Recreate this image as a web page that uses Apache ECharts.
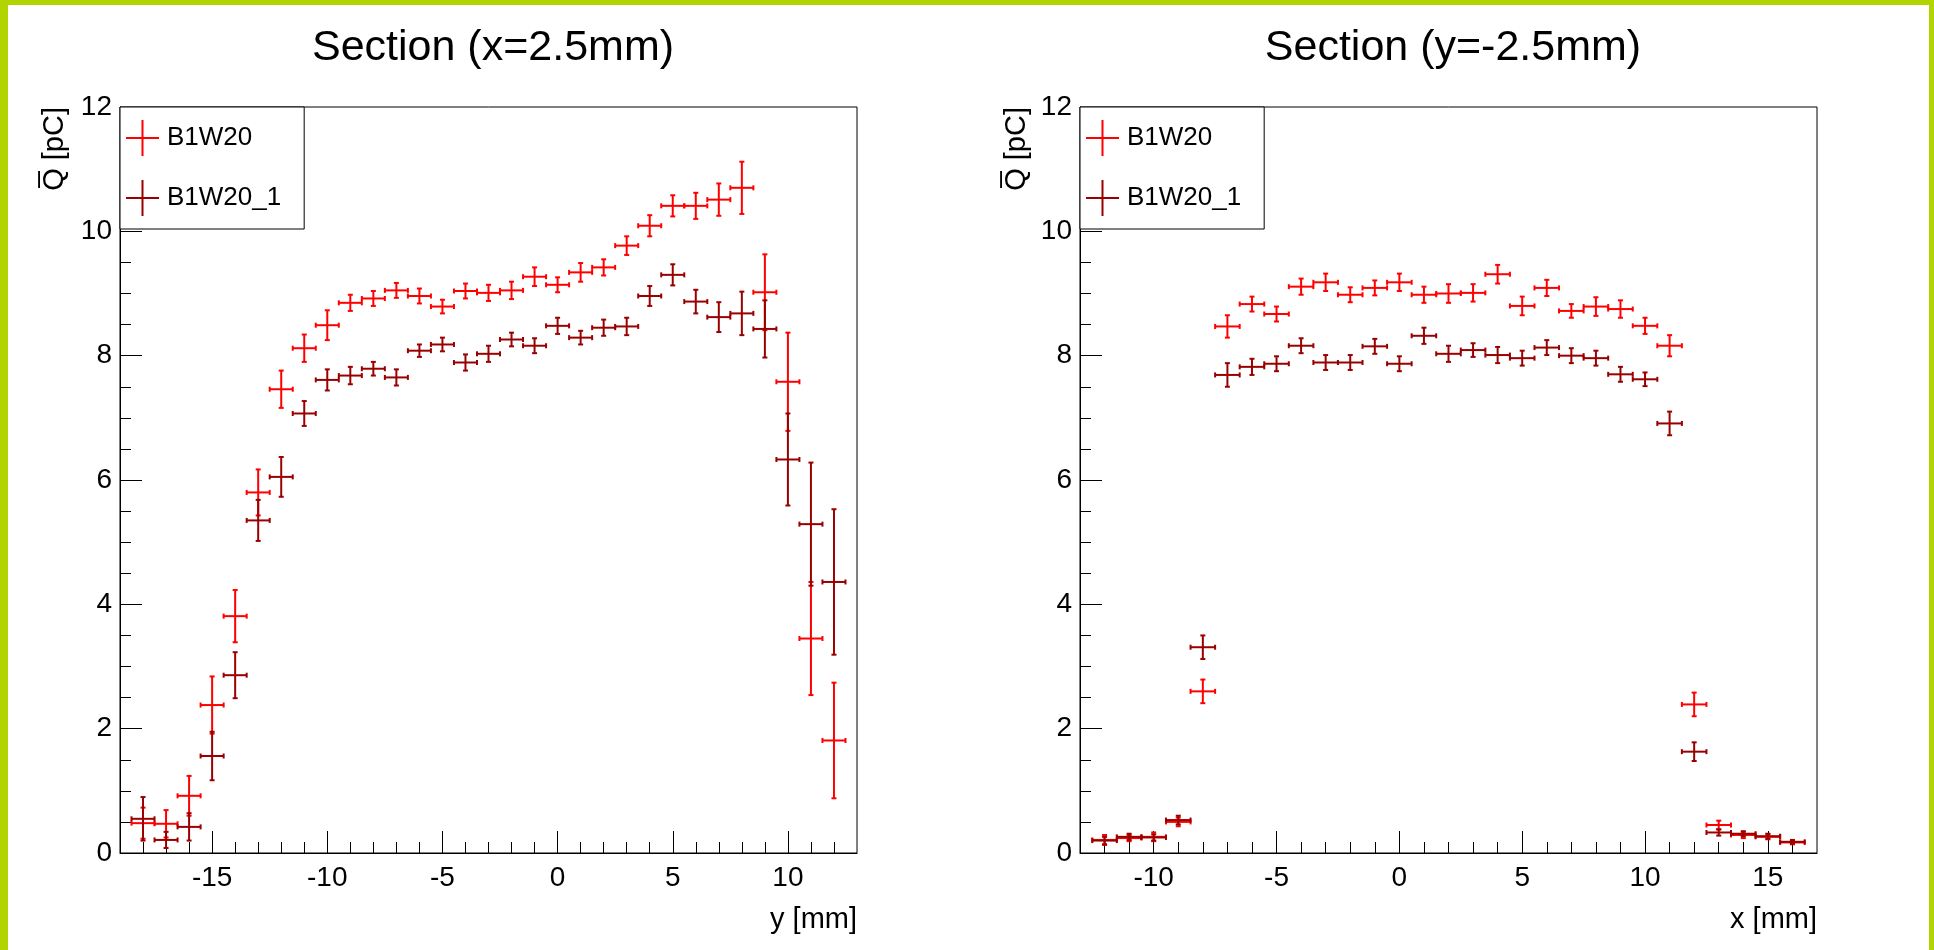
<!DOCTYPE html>
<html>
<head>
<meta charset="utf-8">
<script src="https://cdn.jsdelivr.net/npm/echarts@6/dist/echarts.min.js"></script>
<style>
html, body { margin: 0; padding: 0; background: #fff; }
#chart { position: absolute; left: 0; top: 0; width: 1934px; height: 950px; }
.edge { position: absolute; background: #b2d400; z-index: 5; }
</style>
</head>
<body>
<div id="chart"></div>
<div class="edge" style="left:0;top:0;width:8px;height:950px"></div>
<div class="edge" style="left:0;top:0;width:1934px;height:5px"></div>
<div class="edge" style="right:0;top:0;width:5px;height:950px"></div>
<script>
// section at x = 2.5 mm, scan along y
var yPos = [-18, -17, -16, -15, -14, -13, -12, -11, -10, -9, -8, -7, -6, -5, -4, -3, -2, -1, 0, 1, 2, 3, 4, 5, 6, 7, 8, 9, 10, 11, 12];
var yScanQ = [0.48, 0.47, 0.92, 2.38, 3.81, 5.80, 7.46, 8.12, 8.49, 8.85, 8.92, 9.05, 8.96, 8.79, 9.04, 9.01, 9.05, 9.27, 9.14, 9.34, 9.42, 9.77, 10.09, 10.41, 10.41, 10.51, 10.70, 9.02, 7.58, 3.45, 1.81];
var yScanErr = [0.25, 0.22, 0.32, 0.46, 0.42, 0.37, 0.30, 0.22, 0.24, 0.13, 0.12, 0.12, 0.12, 0.11, 0.12, 0.13, 0.14, 0.15, 0.12, 0.15, 0.13, 0.15, 0.17, 0.17, 0.21, 0.26, 0.42, 0.61, 0.79, 0.91, 0.93];
var yScanQ1 = [0.55, 0.21, 0.42, 1.56, 2.86, 5.35, 6.05, 7.07, 7.61, 7.68, 7.79, 7.65, 8.08, 8.18, 7.89, 8.03, 8.26, 8.16, 8.48, 8.29, 8.45, 8.47, 8.96, 9.30, 8.87, 8.62, 8.68, 8.43, 6.33, 5.29, 4.36];
var yScanErr1 = [0.35, 0.13, 0.22, 0.39, 0.37, 0.33, 0.32, 0.20, 0.17, 0.14, 0.11, 0.13, 0.10, 0.11, 0.13, 0.13, 0.11, 0.12, 0.13, 0.11, 0.13, 0.14, 0.16, 0.17, 0.19, 0.24, 0.35, 0.46, 0.74, 0.99, 1.17];

// section at y = -2.5 mm, scan along x
var xPos = [-12, -11, -10, -9, -8, -7, -6, -5, -4, -3, -2, -1, 0, 1, 2, 3, 4, 5, 6, 7, 8, 9, 10, 11, 12, 13, 14, 15, 16];
var xScanQ = [0.21, 0.24, 0.26, 0.50, 2.60, 8.47, 8.83, 8.67, 9.11, 9.18, 8.98, 9.09, 9.18, 8.98, 9.00, 9.01, 9.31, 8.80, 9.09, 8.72, 8.79, 8.75, 8.48, 8.16, 2.39, 0.45, 0.29, 0.26, 0.17];
var xScanErr = [0.08, 0.05, 0.07, 0.07, 0.19, 0.18, 0.12, 0.12, 0.13, 0.14, 0.12, 0.12, 0.14, 0.13, 0.15, 0.14, 0.15, 0.15, 0.13, 0.11, 0.15, 0.14, 0.13, 0.17, 0.19, 0.07, 0.05, 0.04, 0.03];
var xScanQ1 = [0.20, 0.26, 0.25, 0.53, 3.31, 7.69, 7.82, 7.87, 8.16, 7.89, 7.89, 8.15, 7.87, 8.32, 8.03, 8.09, 8.01, 7.96, 8.13, 8.00, 7.96, 7.70, 7.62, 6.91, 1.63, 0.33, 0.31, 0.27, 0.18];
var xScanErr1 = [0.06, 0.05, 0.05, 0.07, 0.19, 0.19, 0.13, 0.12, 0.12, 0.12, 0.12, 0.12, 0.12, 0.13, 0.13, 0.11, 0.13, 0.12, 0.12, 0.12, 0.12, 0.12, 0.11, 0.19, 0.15, 0.05, 0.04, 0.04, 0.03];

var leftMajor = [-15, -10, -5, 0, 5, 10];
var rightMajor = [-10, -5, 0, 5, 10, 15];
var leftMinor = [-18, -17, -16, -15, -14, -13, -12, -11, -10, -9, -8, -7, -6, -5, -4, -3, -2, -1, 0, 1, 2, 3, 4, 5, 6, 7, 8, 9, 10, 11, 12];
var rightMinor = [-12, -11, -10, -9, -8, -7, -6, -5, -4, -3, -2, -1, 0, 1, 2, 3, 4, 5, 6, 7, 8, 9, 10, 11, 12, 13, 14, 15, 16];

var FONT = 'Liberation Sans, Arial, Helvetica, sans-serif';
var RED = '#ff0000';
var DARK = '#990000';
var CROSS = 'path://M0,17H33V19H0Z M15.5,0H17.5V36H15.5Z';

function zip(xs, vs, es) {
    var out = [];
    for (var i = 0; i < xs.length; ++i) {
        out.push([xs[i], vs[i], es[i]]);
    }
    return out;
}

function errorCross(params, api) {
    var x = api.value(0), y = api.value(1), e = api.value(2);
    var l = api.coord([x - 0.5, y]), r = api.coord([x + 0.5, y]);
    var t = api.coord([x, y + e]), b = api.coord([x, y - e]);
    var c = 2.5;
    var st = { stroke: api.visual('color'), lineWidth: 2 };
    function seg(x1, y1, x2, y2) {
        return { type: 'line', shape: { x1: x1, y1: y1, x2: x2, y2: y2 }, style: st };
    }
    return {
        type: 'group',
        children: [
            seg(l[0], l[1], r[0], r[1]),
            seg(t[0], t[1], b[0], b[1]),
            seg(l[0], l[1] - c, l[0], l[1] + c),
            seg(r[0], r[1] - c, r[0], r[1] + c),
            seg(t[0] - c, t[1], t[0] + c, t[1]),
            seg(b[0] - c, b[1], b[0] + c, b[1])
        ]
    };
}

function mainX(grid, min, max, major) {
    return {
        gridIndex: grid, type: 'value', min: min, max: max, position: 'bottom',
        axisLine: { show: true, onZero: false, lineStyle: { color: '#000', width: 1 } },
        axisTick: { show: true, inside: true, length: 22, customValues: major, lineStyle: { color: '#000' } },
        axisLabel: { customValues: major, margin: 11, fontSize: 28, color: '#000', fontFamily: FONT },
        splitLine: { show: false }
    };
}

function minorX(grid, min, max, minor) {
    return {
        gridIndex: grid, type: 'value', min: min, max: max, position: 'bottom',
        axisLine: { show: false },
        axisTick: { show: true, inside: true, length: 11, customValues: minor, lineStyle: { color: '#000' } },
        axisLabel: { show: false },
        splitLine: { show: false }
    };
}

function valueY(grid) {
    return {
        gridIndex: grid, type: 'value', min: 0, max: 12, interval: 2,
        axisLine: { show: true, onZero: false, lineStyle: { color: '#000', width: 1 } },
        axisTick: { show: true, inside: true, length: 22, lineStyle: { color: '#000' } },
        minorTick: { show: true, splitNumber: 4, length: 11, lineStyle: { color: '#000' } },
        axisLabel: { margin: 8, fontSize: 28, color: '#000', fontFamily: FONT },
        splitLine: { show: false }
    };
}

function legendBox(left) {
    return {
        orient: 'vertical', left: left, top: 107,
        itemWidth: 33, itemHeight: 36, itemGap: 24,
        padding: [13, 23, 13, 6],
        borderColor: '#000', borderWidth: 1, backgroundColor: '#fff',
        textStyle: { fontSize: 26, color: '#000', fontFamily: FONT, padding: [0, 0, 0, 3] },
        data: [
            { name: 'B1W20', icon: CROSS, itemStyle: { color: RED } },
            { name: 'B1W20_1', icon: CROSS, itemStyle: { color: DARK } }
        ]
    };
}

function crossSeries(name, color, xi, yi, data) {
    return {
        name: name, type: 'custom', xAxisIndex: xi, yAxisIndex: yi,
        itemStyle: { color: color }, clip: true,
        renderItem: errorCross, data: data
    };
}

var chart = echarts.init(document.getElementById('chart'));
chart.setOption({
    backgroundColor: '#fff',
    animation: false,
    title: [
        { text: 'Section (x=2.5mm)', left: 488, top: 22, textAlign: 'center',
          textStyle: { fontSize: 43, fontWeight: 'normal', color: '#000', fontFamily: FONT } },
        { text: 'Section (y=-2.5mm)', left: 1448, top: 22, textAlign: 'center',
          textStyle: { fontSize: 43, fontWeight: 'normal', color: '#000', fontFamily: FONT } }
    ],
    legend: [legendBox(120), legendBox(1080)],
    grid: [
        { left: 120, top: 107, width: 737, height: 746, show: true, borderColor: '#000', borderWidth: 1, backgroundColor: 'transparent' },
        { left: 1080, top: 107, width: 737, height: 746, show: true, borderColor: '#000', borderWidth: 1, backgroundColor: 'transparent' }
    ],
    xAxis: [
        mainX(0, -19, 13, leftMajor),
        minorX(0, -19, 13, leftMinor),
        mainX(1, -13, 17, rightMajor),
        minorX(1, -13, 17, rightMinor)
    ],
    yAxis: [valueY(0), valueY(1)],
    series: [
        crossSeries('B1W20', RED, 0, 0, zip(yPos, yScanQ, yScanErr)),
        crossSeries('B1W20_1', DARK, 0, 0, zip(yPos, yScanQ1, yScanErr1)),
        crossSeries('B1W20', RED, 2, 1, zip(xPos, xScanQ, xScanErr)),
        crossSeries('B1W20_1', DARK, 2, 1, zip(xPos, xScanQ1, xScanErr1))
    ],
    graphic: [
        { type: 'text', x: 55, y: 107, rotation: Math.PI / 2,
          style: { text: 'Q\u0305 [pC]', fill: '#000', fontSize: 29, fontFamily: FONT, align: 'right', verticalAlign: 'middle' } },
        { type: 'text', x: 1017, y: 107, rotation: Math.PI / 2,
          style: { text: 'Q\u0305 [pC]', fill: '#000', fontSize: 29, fontFamily: FONT, align: 'right', verticalAlign: 'middle' } },
        { type: 'text', x: 857, y: 920,
          style: { text: 'y [mm]', fill: '#000', fontSize: 29, fontFamily: FONT, align: 'right', verticalAlign: 'middle' } },
        { type: 'text', x: 1817, y: 920,
          style: { text: 'x [mm]', fill: '#000', fontSize: 29, fontFamily: FONT, align: 'right', verticalAlign: 'middle' } }
    ]
});
</script>
</body>
</html>
